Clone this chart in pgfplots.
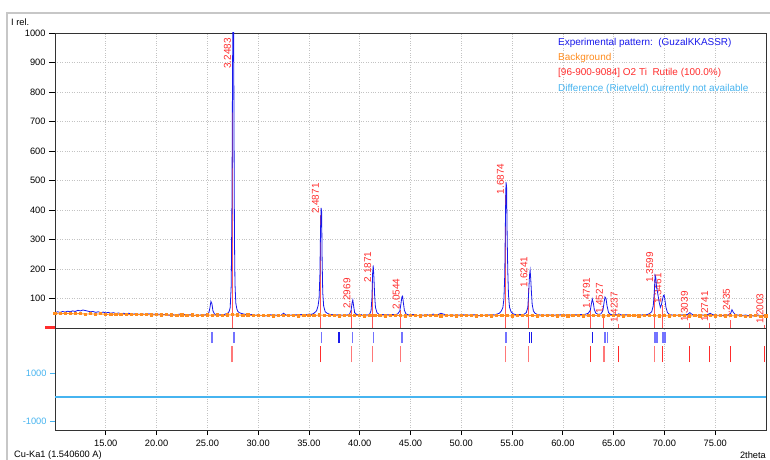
\documentclass[border=0pt]{standalone}
\usepackage{pgfplots}
\pgfplotsset{compat=1.18}
\usepackage{pgfplotstable}
\usepackage{fontspec}
\setmainfont{Liberation Sans}
\definecolor{expblue}{RGB}{25,25,235}
\definecolor{lightblue}{RGB}{115,115,255}
\definecolor{bgorange}{RGB}{255,140,30}
\definecolor{refred}{RGB}{255,45,45}
\definecolor{lightred}{RGB}{255,120,120}
\definecolor{diffcyan}{RGB}{70,180,240}
\definecolor{gridgray}{RGB}{195,195,195}

\pgfplotstableread{
x y
10.00 52
10.25 55
10.50 53
10.75 56
11.00 54
11.25 57
11.50 55
11.75 58
12.00 56
12.25 60
12.50 58
12.75 61
13.00 59
13.25 57
13.50 55
13.75 56
14.00 53
14.25 55
14.50 52
14.75 54
15.00 51
15.25 53
15.50 50
15.75 52
16.00 49
16.25 51
16.50 48
16.75 50
17.00 47
17.25 50
17.50 48
17.75 47
18.00 49
18.25 46
18.50 48
18.75 47
19.00 45
19.25 48
19.50 46
19.75 47
20.00 45
20.25 47
20.50 44
20.75 46
21.00 45
21.25 43
21.50 46
21.75 44
22.00 45
22.25 47
22.50 44
22.75 46
23.00 43
23.25 45
23.50 44
23.75 42
24.00 45
24.25 43
24.50 46
24.75 44
25.00 47
25.15 52
25.25 68
25.35 90
25.45 82
25.55 58
25.70 48
25.85 44
26.00 42
26.25 45
26.50 43
26.75 47
27.00 50
27.15 56
27.25 70
27.35 145
27.42 420
27.48 880
27.53 1100
27.58 1100
27.62 705
27.67 300
27.72 150
27.80 85
27.90 65
28.00 56
28.15 52
28.30 50
28.50 48
28.75 46
29.00 47
29.25 45
29.50 46
29.75 43
30.00 45
30.25 42
30.50 44
30.75 41
31.00 43
31.25 45
31.50 42
31.75 44
32.00 41
32.25 43
32.50 50
32.75 44
33.00 42
33.25 44
33.50 43
33.75 45
34.00 44
34.25 46
34.50 44
34.75 45
35.00 47
35.25 46
35.50 50
35.75 58
35.90 75
36.00 100
36.08 180
36.14 330
36.20 407
36.25 395
36.30 230
36.36 120
36.45 75
36.60 55
36.80 50
37.00 47
37.25 45
37.50 46
37.75 44
38.00 46
38.25 43
38.50 45
38.75 44
39.00 47
39.15 60
39.25 85
39.32 95
39.40 75
39.50 52
39.70 46
39.90 44
40.10 46
40.30 43
40.50 45
40.75 44
41.00 48
41.12 60
41.20 100
41.27 185
41.33 212
41.40 170
41.47 110
41.55 70
41.70 52
41.90 46
42.10 44
42.30 46
42.50 43
42.75 45
43.00 44
43.25 46
43.50 45
43.75 48
43.95 58
44.05 80
44.15 105
44.22 108
44.30 85
44.40 60
44.55 48
44.75 45
45.00 43
45.25 46
45.50 44
45.75 42
46.00 45
46.25 43
46.50 46
46.75 44
47.00 45
47.25 47
47.50 44
47.75 46
48.00 50
48.25 47
48.50 45
48.75 43
49.00 45
49.25 44
49.50 42
49.75 44
50.00 43
50.25 45
50.50 42
50.75 44
51.00 43
51.25 45
51.50 44
51.75 42
52.00 44
52.25 43
52.50 45
52.75 44
53.00 46
53.25 44
53.50 47
53.75 50
53.95 58
54.10 70
54.20 100
54.28 180
54.34 350
54.40 495
54.46 480
54.52 300
54.58 190
54.65 110
54.75 70
54.90 55
55.10 48
55.30 46
55.50 44
55.75 46
56.00 45
56.20 47
56.40 52
56.55 70
56.65 130
56.72 180
56.78 195
56.84 165
56.90 125
56.98 80
57.10 58
57.25 50
57.50 46
57.75 44
58.00 45
58.25 43
58.50 45
58.75 44
59.00 42
59.25 44
59.50 43
59.75 45
60.00 43
60.25 44
60.50 42
60.75 44
61.00 43
61.25 45
61.50 44
61.75 46
62.00 45
62.25 47
62.50 50
62.70 60
62.80 80
62.90 98
63.00 85
63.10 62
63.25 50
63.50 46
63.75 48
63.95 60
64.05 85
64.15 105
64.25 100
64.35 75
64.50 52
64.70 46
64.90 45
65.10 46
65.30 44
65.50 48
65.70 45
65.90 43
66.25 45
66.50 44
66.75 42
67.00 44
67.25 43
67.50 45
67.75 44
68.00 46
68.25 45
68.50 48
68.75 55
68.90 75
69.00 120
69.08 178
69.15 170
69.22 140
69.30 125
69.40 105
69.50 85
69.60 70
69.70 78
69.80 95
69.90 110
69.97 112
70.05 95
70.15 70
70.30 52
70.50 46
70.75 44
71.00 45
71.25 43
71.50 45
71.75 44
72.00 46
72.25 45
72.50 52
72.65 48
72.80 45
73.00 44
73.25 43
73.50 45
73.75 44
74.00 43
74.25 45
74.50 50
74.70 46
74.90 44
75.25 43
75.50 44
75.75 42
76.00 44
76.25 43
76.50 48
76.65 62
76.80 52
77.00 45
77.25 44
77.50 42
77.75 43
78.00 44
78.25 42
78.50 43
78.75 41
79.00 42
79.25 44
79.50 41
79.75 43
80.00 42
}\exptable

\pgfplotstableread{
x y
10.0 49
10.5 48
11.0 50
11.5 49
12.0 48
12.5 49
13.0 47
13.5 48
14.0 47
14.5 48
15.0 46
15.5 47
16.0 46
16.5 47
17.0 46
17.5 45
18.0 46
18.5 45
19.0 46
19.5 44
20.0 45
20.5 44
21.0 45
21.5 44
22.0 43
22.5 44
23.0 43
23.5 44
24.0 42
24.5 43
25.0 44
25.5 43
26.0 44
26.5 42
27.0 44
27.5 45
28.0 44
28.5 43
29.0 44
29.5 42
30.0 43
30.5 42
31.0 43
31.5 41
32.0 42
32.5 43
33.0 42
33.5 43
34.0 41
34.5 42
35.0 43
35.5 42
36.0 44
36.5 43
37.0 42
37.5 43
38.0 41
38.5 42
39.0 43
39.5 42
40.0 43
40.5 41
41.0 42
41.5 43
42.0 42
42.5 41
43.0 42
43.5 43
44.0 42
44.5 41
45.0 42
45.5 43
46.0 41
46.5 42
47.0 43
47.5 42
48.0 41
48.5 42
49.0 43
49.5 41
50.0 42
50.5 43
51.0 42
51.5 41
52.0 42
52.5 43
53.0 41
53.5 42
54.0 43
54.5 42
55.0 41
55.5 42
56.0 43
56.5 42
57.0 43
57.5 41
58.0 42
58.5 43
59.0 42
59.5 41
60.0 42
60.5 41
61.0 42
61.5 43
62.0 41
62.5 42
63.0 43
63.5 42
64.0 41
64.5 42
65.0 43
65.5 42
66.0 41
66.5 42
67.0 43
67.5 41
68.0 42
68.5 43
69.0 42
69.5 41
70.0 42
70.5 41
71.0 42
71.5 43
72.0 42
72.5 41
73.0 42
73.5 41
74.0 42
74.5 43
75.0 41
75.5 42
76.0 41
76.5 42
77.0 41
77.5 42
78.0 40
78.5 41
79.0 42
79.5 40
80.0 41
}\bgtable

\pgfplotstableread{
x y d
27.44 875 3.2483
36.09 383 2.4871
39.19 61 2.2969
41.24 152 2.1871
44.04 60 2.0544
54.32 450 1.6874
56.63 135 1.6241
62.77 64 1.4791
64.05 44 1.4527
65.52 15 1.4237
69.01 150 1.3599
69.82 78 1.3461
72.42 17 1.3039
74.40 17 1.2741
76.55 27 1.2435
79.85 10 1.2003
}\reftable

\begin{document}
\begin{tikzpicture}
\useasboundingbox (0,0) rectangle (770bp,460bp);
\fill[white] (0,0) rectangle (770bp,460bp);
\draw[black!22, line width=1.6bp] (7bp,0) -- (7bp,447bp) -- (770bp,447bp);

% ---------- upper panel ----------
\begin{axis}[
  at={(55bp,132bp)}, anchor=south west,
  scale only axis, width=711bp, height=295bp,
  xmin=10, xmax=80, ymin=0, ymax=1000,
  clip mode=individual,
  xtick={15,20,...,75}, xticklabels={},
  xtick style={draw=none},
  ytick={100,200,...,1000},
  yticklabels={100,200,300,400,500,600,700,800,900,1000},
  ytick pos=left, tick align=outside, major tick length=6bp,
  ytick style={black, line width=0.8bp},
  tick label style={font=\fontsize{9.3}{10}\selectfont},
  grid=major, major grid style={gridgray, dotted, line width=0.7bp},
  axis line style={black!80, line width=0.9bp},
]
\addplot[refred, opacity=0.8, ycomb, line width=1bp,
  point meta=explicit symbolic,
  nodes near coords={\pgfplotspointmeta},
  every node near coord/.append style={rotate=90, anchor=south west, inner sep=0.6bp,
    text=refred, opacity=1, font=\fontsize{10}{11}\selectfont}]
  table[x=x,y=y,meta=d] {\reftable};
\addplot[expblue, line width=0.8bp] table[x=x,y=y] {\exptable};
\addplot[bgorange, line width=0.9bp, mark=square*, mark size=1.1bp,
  mark options={fill=bgorange, draw=bgorange}] table[x=x,y=y] {\bgtable};
\draw[refred, line width=3bp] (rel axis cs:-0.014,0) -- (rel axis cs:0,0);
\end{axis}

% ---------- lower panel ----------
\begin{axis}[
  at={(55bp,30bp)}, anchor=south west,
  scale only axis, width=711bp, height=102bp,
  xmin=10, xmax=80, ymin=-1375, ymax=2875,
  unbounded coords=jump,
  xtick={15,20,...,75},
  xticklabels={15.00,20.00,25.00,30.00,35.00,40.00,45.00,50.00,55.00,60.00,65.00,70.00,75.00},
  xtick pos=bottom, ytick pos=left, tick align=outside,
  major tick length=5bp,
  xtick style={black, line width=0.8bp},
  ytick={-1000,1000}, yticklabels={-1000,1000},
  ytick style={diffcyan, line width=0.8bp},
  yticklabel style={text=diffcyan},
  tick label style={font=\fontsize{9.3}{10}\selectfont},
  xticklabel style={yshift=-2bp},
  xmajorgrids, major grid style={gridgray, dotted, line width=0.7bp},
  axis line style={black!80, line width=0.9bp},
]
\addplot[diffcyan, line width=1.6bp] coordinates {(10,0) (80,0)};
% blue sticks (peaks found in the experimental pattern)
\addplot[lightblue, line width=1.6bp] coordinates {
 (25.44,2250) (25.44,2708) (25.44,nan)
 (27.60,2250) (27.60,2708) (27.60,nan)
 (36.22,2250) (36.22,2708) (36.22,nan)
 (39.27,2250) (39.27,2708) (39.27,nan)
 (41.37,2250) (41.37,2708) (41.37,nan)
 (44.19,2250) (44.19,2708) (44.19,nan)
 (54.41,2250) (54.41,2708) (54.41,nan)
 (64.08,2250) (64.08,2708) (64.08,nan)
 (64.20,2250) (64.20,2708) (64.20,nan)
 (64.38,2250) (64.38,2708) (64.38,nan)
 (69.03,2250) (69.03,2708) (69.03,nan)
 (69.18,2250) (69.18,2708) (69.18,nan)
 (69.32,2250) (69.32,2708) (69.32,nan)
 (69.88,2250) (69.88,2708) (69.88,nan)
 (70.08,2250) (70.08,2708)
};
\addplot[expblue, line width=1.1bp] coordinates {
 (37.96,2250) (37.96,2708) (37.96,nan)
 (56.72,2250) (56.72,2708) (56.72,nan)
 (56.94,2250) (56.94,2708) (56.94,nan)
 (62.93,2250) (62.93,2708)
};
% red sticks (reference pattern positions)
\addplot[lightred, line width=1.3bp] coordinates {
 (27.44,1458) (27.44,2125) (27.44,nan)
 (39.19,1458) (39.19,2125) (39.19,nan)
 (41.24,1458) (41.24,2125) (41.24,nan)
 (44.04,1458) (44.04,2125) (44.04,nan)
 (54.32,1458) (54.32,2125) (54.32,nan)
 (56.63,1458) (56.63,2125) (56.63,nan)
 (64.05,1458) (64.05,2125) (64.05,nan)
 (69.01,1458) (69.01,2125)
};
\addplot[refred, line width=1bp] coordinates {
 (36.09,1458) (36.09,2125) (36.09,nan)
 (62.77,1458) (62.77,2125) (62.77,nan)
 (65.52,1458) (65.52,2125) (65.52,nan)
 (69.82,1458) (69.82,2125) (69.82,nan)
 (72.42,1458) (72.42,2125) (72.42,nan)
 (74.40,1458) (74.40,2125) (74.40,nan)
 (76.55,1458) (76.55,2125) (76.55,nan)
 (79.85,1458) (79.85,2125)
};
\end{axis}

% ---------- texts ----------
\node[anchor=west, inner sep=0, font=\fontsize{9.3}{10}\selectfont] at (11bp,437.5bp) {I rel.};
\begin{scope}[every node/.style={anchor=west, inner sep=0, font=\fontsize{10}{11}\selectfont}]
\node[text=expblue] at (558bp,417bp) {Experimental pattern:\ \ (GuzalKKASSR)};
\node[text=bgorange] at (558bp,402bp) {Background};
\node[text=refred] at (558bp,387bp) {[96-900-9084] O2 Ti\ \ Rutile (100.0\%)};
\node[text=diffcyan] at (558bp,371bp) {Difference (Rietveld) currently not available};
\end{scope}
\node[anchor=west, inner sep=0, font=\fontsize{9.3}{10}\selectfont] at (14bp,4.5bp) {Cu-Ka1 (1.540600 A)};
\node[anchor=east, inner sep=0, font=\fontsize{9.3}{10}\selectfont] at (766bp,5bp) {2theta};
\end{tikzpicture}
\end{document}
